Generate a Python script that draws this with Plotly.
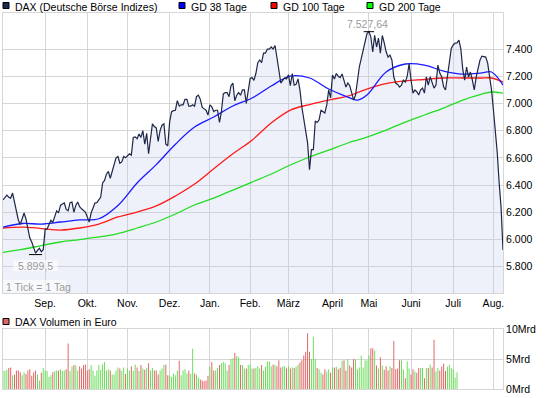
import pandas as pd
import plotly.graph_objects as go

# ---------------- data ----------------
holidays = ["2010-12-24", "2010-12-31", "2011-04-22", "2011-04-25"]
dates = pd.bdate_range("2010-08-02", "2011-08-08")
dates = dates[~dates.isin(pd.to_datetime(holidays))]

dax_aug10 = [6290, 6310, 6326, 6310, 6304, 6341, 6268, 6194, 6143, 6110, 6150, 6194, 6150, 6091, 6010, 5981, 5944, 5899.5, 5920, 5935, 5910, 5925]
dax_sep10 = [6075, 6075, 6110, 6140, 6125, 6165, 6210, 6195, 6250, 6260, 6268, 6220, 6210, 6270, 6275, 6200, 6250, 6275, 6240, 6225, 6216, 6201]
dax_oct10 = [6165, 6128, 6194, 6238, 6268, 6270, 6290, 6312, 6415, 6434, 6480, 6500, 6450, 6500, 6560, 6600, 6610, 6560, 6570, 6610, 6601]
dax_nov10 = [6615, 6630, 6620, 6750, 6754, 6740, 6775, 6750, 6800, 6700, 6780, 6630, 6740, 6850, 6830, 6820, 6720, 6800, 6840, 6850, 6700, 6688]
dax_dec10 = [6866, 6940, 6947, 6950, 7020, 6980, 6990, 6990, 7030, 7030, 6980, 6980, 6990, 6980, 7050, 7060, 7030, 6970, 6960, 6950, 6914]
dax_jan11 = [6990, 6975, 6940, 6950, 6950, 6860, 6940, 7070, 7080, 7080, 7050, 7130, 7150, 7020, 7060, 7080, 7060, 7100, 7100, 7000, 7077]
dax_feb11 = [7184, 7190, 7170, 7220, 7300, 7320, 7300, 7370, 7370, 7400, 7400, 7415, 7400, 7426, 7319, 7246, 7150, 7165, 7187, 7180]
dax_mar11 = [7210, 7130, 7220, 7135, 7140, 7180, 7100, 6974, 6880, 6820, 6710, 6513, 6660, 6660, 6870, 6860, 6880, 6950, 6940, 6930, 6990, 7099, 7041]
dax_apr11 = [7209, 7180, 7220, 7200, 7190, 7217, 7160, 7120, 7150, 7130, 7080, 7025, 7060, 7180, 7268, 7330, 7393, 7475, 7514]
dax_may11 = [7527.64, 7490, 7378, 7500, 7415, 7480, 7370, 7500, 7445, 7380, 7341, 7356, 7320, 7194, 7150, 7140, 7121, 7135, 7172, 7157, 7200, 7293]
dax_jun11 = [7172, 7076, 7099, 7086, 7062, 7100, 7113, 7076, 7196, 7135, 7196, 7150, 7113, 7135, 7282, 7223, 7196, 7123, 7099, 7200, 7295, 7405]
dax_jul11 = [7430, 7444, 7445, 7466, 7400, 7250, 7172, 7268, 7194, 7231, 7172, 7099, 7194, 7260, 7319, 7348, 7345, 7341, 7297, 7194, 7100]
dax_aug11 = [6954, 6797, 6637, 6414, 6236, 5923]

dax_close = (dax_aug10 + dax_sep10 + dax_oct10 + dax_nov10 + dax_dec10 + dax_jan11 +
             dax_feb11 + dax_mar11 + dax_apr11 + dax_may11 + dax_jun11 + dax_jul11 + dax_aug11)

# moving averages read at these trading-day positions
ma_idx = [0, 10, 20, 30, 40, 50, 60, 70, 80, 90, 100, 110, 120, 130, 140, 150, 160, 170, 180, 185,
          190, 200, 210, 220, 230, 240, 250, 255, 261]
gd38 = [6091, 6117, 6113, 6128, 6143, 6152, 6250, 6415, 6550, 6700, 6826, 6900, 6981, 7040, 7128, 7201, 7187, 7106, 7047, 7025,
        7062, 7231, 7290, 7282, 7238, 7216, 7224, 7231, 7135]
gd100 = [6084, 6091, 6080, 6069, 6084, 6113, 6165, 6201, 6246, 6319, 6407, 6520, 6630, 6730, 6856, 6951, 6992, 7025, 7054, 7080,
         7106, 7146, 7165, 7176, 7187, 7187, 7187, 7187, 7157]
gd200 = [5904, 5926, 5955, 5981, 5999, 6018, 6043, 6084, 6128, 6187, 6253, 6304, 6363, 6422, 6481, 6547, 6606, 6657, 6709, 6731,
         6753, 6804, 6863, 6915, 6966, 7025, 7069, 7084, 7076]

# volume in Mrd Euro (ends earlier than the price series)
volume_mrd = [
    3.1, 3.0, 3.2, 3.5, 3.6, 2.3, 2.4, 3.1, 3.1, 2.8, 2.3, 2.8, 2.5, 3.1, 3.3, 2.2, 2.8, 3.1, 2.4, 1.4,
    2.7, 3.5, 3.1, 3.0, 2.0, 2.3, 2.8, 3.0, 3.1, 3.1, 3.3, 3.0, 3.1, 3.3, 7.6, 3.0, 3.75, 4.0, 3.9, 3.1,
    3.75, 3.4, 4.0, 4.1, 3.1, 3.3, 4.0, 3.1, 2.2, 3.1, 4.0, 3.2, 4.1, 4.5, 3.1, 3.3, 3.1, 2.4, 2.4, 3.1,
    3.6, 3.4, 3.0, 3.6, 2.5, 3.4, 3.1, 3.75, 3.0, 4.1, 3.6,
    3.0, 4.0, 3.4, 3.2, 3.5, 4.3, 3.1, 3.5, 3.1, 3.1, 2.4, 3.1, 3.4, 4.0, 4.1, 2.3, 2.3, 2.0, 2.6, 2.3,
    3.1, 4.7, 2.3, 3.1, 3.3, 2.6, 3.1, 2.5, 6.7, 2.6, 2.4, 1.9, 1.6, 1.4, 1.3, 1.4, 2.2,
    3.7, 4.5, 3.1, 3.1, 3.5, 4.0, 4.3, 4.5, 4.3, 3.1, 4.0, 5.0, 5.1, 6.0, 5.5, 5.3, 4.0, 4.0, 3.4, 3.4, 4.0,
    4.1, 3.4, 3.4, 3.5, 3.8, 3.4, 4.0, 3.1, 3.7, 4.6, 4.6, 3.8, 4.1, 4.0, 3.8, 4.8, 3.6, 3.8, 3.8, 3.4,
    3.8, 3.4, 3.6, 3.5, 3.7, 4.1, 4.4, 4.8, 5.6, 6.2, 9.3, 6.2, 5.0, 8.7, 5.0, 3.5, 3.3, 2.7, 2.4, 3.3, 2.9, 3.3, 2.7,
    3.6, 3.6, 3.7, 3.3, 3.5, 4.7, 4.8, 3.1, 5.0, 3.9, 3.6, 5.0, 4.9, 3.3, 3.6, 5.6, 3.6, 4.8, 4.8,
    5.6, 6.8, 6.8, 6.4, 3.9, 3.4, 5.3, 3.9, 3.2, 3.8, 3.1, 3.8, 3.5, 8.0, 3.3, 3.4, 4.8, 4.8, 3.3, 1.8, 4.6, 3.4,
    2.4, 3.3, 2.9, 2.7, 3.5, 3.5, 3.5, 1.8, 3.5, 3.5, 4.1, 3.6, 8.2, 2.9, 3.5, 3.1, 3.75, 4.2, 3.0, 3.7,
    4.0, 3.5, 3.3, 1.9, 2.8,
]

month_labels = ["Sep.", "Okt.", "Nov.", "Dez.", "Jan.", "Feb.", "März", "April", "Mai", "Juni", "Juli", "Aug."]
price_ticks = [5800, 6000, 6200, 6400, 6600, 6800, 7000, 7200, 7400]
volume_ticks = [0, 5, 10]
volume_tick_text = ["0Mrd", "5Mrd", "10Mrd"]

legend_names = ["DAX (Deutsche Börse Indizes)", "GD 38 Tage", "GD 100 Tage", "GD 200 Tage"]
legend_colors = ["#1e2a50", "#0000ff", "#ff0000", "#00ff00"]

# ---------------- derived ----------------
n = len(dax_close)
x_idx = list(range(n))
month_start = [i for i in range(1, n) if dates[i].month != dates[i - 1].month]

def de_num(v, dec=2):
    s = f"{v:,.{dec}f}"
    if dec:
        s = s.rstrip("0").rstrip(".")
    return s.replace(",", "X").replace(".", ",").replace("X", ".")

vol_colors = []
for i in range(len(volume_mrd)):
    up = i == 0 or dax_close[i] >= dax_close[i - 1]
    vol_colors.append("#66dd55" if up else "#e06060")

# ---------------- layout geometry (pixels) ----------------
W, H = 545, 398
PL, PR, PT, PB = 3, 503, 13, 389
YMIN, YMAX = 5606, 7665
MAIN_BOTTOM_PX, VOL_TOP_PX = 293, 329

def pxx(p):
    return (p - PL) / (PR - PL)

def pxy(p):
    return (PB - p) / (PB - PT)

FONT = "Liberation Sans, Arial, sans-serif"
GRID = "#d6d6d6"

fig = go.Figure()

fig.add_trace(go.Scatter(x=x_idx, y=dax_close, mode="lines", line=dict(width=0),
                         fill="tozeroy", fillcolor="rgba(187,199,235,0.25)",
                         hoverinfo="skip", showlegend=False))
for vals, col in [(gd200, "#22dd22"), (gd100, "#ff1a1a"), (gd38, "#1a1aff")]:
    fig.add_trace(go.Scatter(x=ma_idx, y=vals, mode="lines",
                             line=dict(color=col, width=1.3, shape="spline", smoothing=1.0),
                             showlegend=False))
fig.add_trace(go.Scatter(x=x_idx, y=dax_close, mode="lines",
                         line=dict(color="#1e2747", width=1.2), showlegend=False))
fig.add_trace(go.Bar(x=list(range(len(volume_mrd))), y=volume_mrd, width=0.5,
                     marker=dict(color=vol_colors, line=dict(width=0)),
                     xaxis="x2", yaxis="y2", showlegend=False))

axis_common = dict(showgrid=True, gridcolor=GRID, gridwidth=1, showline=True, mirror=True,
                   linecolor=GRID, linewidth=1, zeroline=False, ticks="")

fig.update_layout(
    width=W, height=H,
    margin=dict(l=PL, r=W - PR, t=PT, b=H - PB),
    paper_bgcolor="white", plot_bgcolor="white",
    font=dict(family=FONT, size=10.5, color="#000000"),
    hovermode=False,
    xaxis=dict(domain=[0, 1], range=[0, n - 1], anchor="y",
               tickmode="array", tickvals=month_start, ticktext=month_labels,
               tickfont=dict(size=10.5, color="#000000"), **axis_common),
    yaxis=dict(domain=[pxy(MAIN_BOTTOM_PX), 1], range=[YMIN, YMAX], side="right", anchor="x",
               tickmode="array", tickvals=price_ticks,
               ticktext=[de_num(v, 0) for v in price_ticks],
               tickfont=dict(size=10.5, color="#000000"), **axis_common),
    xaxis2=dict(domain=[0, 1], range=[0, n - 1], anchor="y2",
                tickmode="array", tickvals=month_start, showticklabels=False, **axis_common),
    yaxis2=dict(domain=[0, pxy(VOL_TOP_PX)], range=[0, 10], side="right", anchor="x2",
                tickmode="array", tickvals=volume_ticks, ticktext=volume_tick_text,
                tickfont=dict(size=10.5, color="#000000"), **axis_common),
)

shapes = []
annotations = []

# legend (top)
sq_left = [3, 179, 271, 367]
for name, col, xl in zip(legend_names, legend_colors, sq_left):
    shapes.append(dict(type="rect", xref="paper", yref="paper",
                       x0=pxx(xl), x1=pxx(xl + 6), y0=pxy(8.5), y1=pxy(2.5),
                       fillcolor=col, line=dict(color="#000000", width=1)))
    annotations.append(dict(xref="paper", yref="paper", x=pxx(xl + 10), y=pxy(6.5),
                            xanchor="left", yanchor="middle", showarrow=False, text=name,
                            font=dict(size=10.5, color="#000000")))

# volume legend
shapes.append(dict(type="rect", xref="paper", yref="paper",
                   x0=pxx(3), x1=pxx(9), y0=pxy(324.5), y1=pxy(318.5),
                   fillcolor="#e06666", line=dict(color="#000000", width=1)))
annotations.append(dict(xref="paper", yref="paper", x=pxx(13), y=pxy(321.5),
                        xanchor="left", yanchor="middle", showarrow=False,
                        text="DAX Volumen in Euro", font=dict(size=10.5, color="#000000")))

# max / min markers
upp = (YMAX - YMIN) / (MAIN_BOTTOM_PX - PT)
imax = max(range(n), key=lambda i: dax_close[i])
imin = min(range(n), key=lambda i: dax_close[i])
vmax, vmin = dax_close[imax], dax_close[imin]
shapes.append(dict(type="line", xref="x", yref="y", x0=imax - 2.7, x1=imax + 2.7,
                   y0=vmax, y1=vmax, line=dict(color="#000000", width=1)))
shapes.append(dict(type="line", xref="x", yref="y", x0=imin - 3.4, x1=imin + 3.4,
                   y0=vmin - 1.5 * upp, y1=vmin - 1.5 * upp, line=dict(color="#000000", width=1)))
annotations.append(dict(xref="x", yref="y", x=imax - 0.8, y=vmax + 8 * upp, showarrow=False,
                        xanchor="center", yanchor="middle", text=de_num(vmax),
                        font=dict(size=10.5, color="#9a9a9a")))
shapes.append(dict(type="rect", xref="x", yref="y", x0=imin - 11.6, x1=imin + 11.6,
                   y0=vmin - 18 * upp, y1=vmin - 7 * upp,
                   fillcolor="rgba(255,255,255,0.6)", line=dict(width=0)))
annotations.append(dict(xref="x", yref="y", x=imin, y=vmin - 12.5 * upp, showarrow=False,
                        xanchor="center", yanchor="middle", text=de_num(vmin),
                        font=dict(size=10.5, color="#9a9a9a")))

# "1 Tick = 1 Tag"
shapes.append(dict(type="rect", xref="paper", yref="paper",
                   x0=pxx(3.5), x1=pxx(66), y0=pxy(292.5), y1=pxy(280),
                   fillcolor="rgba(255,255,255,0.55)", line=dict(width=0)))
annotations.append(dict(xref="paper", yref="paper", x=pxx(4), y=pxy(287),
                        xanchor="left", yanchor="middle", showarrow=False,
                        text="1 Tick = 1 Tag", font=dict(size=10.5, color="#9a9a9a")))

fig.update_layout(shapes=shapes, annotations=annotations)

fig.write_html("out.html",
               config={"displayModeBar": False, "staticPlot": True},
               post_script="document.body.style.margin='0';document.body.style.padding='0';")
